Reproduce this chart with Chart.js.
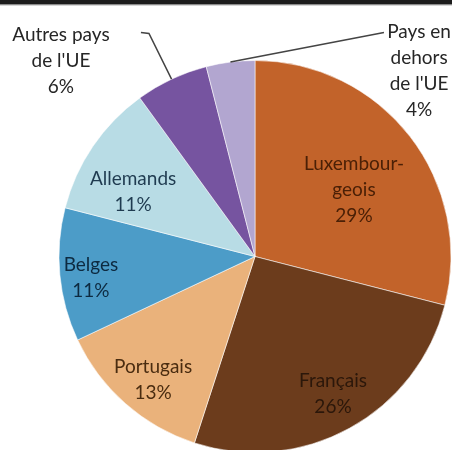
<!DOCTYPE html>
<html>
<head>
<meta charset="utf-8">
<script src="https://cdn.jsdelivr.net/npm/chart.js@4/dist/chart.umd.min.js"></script>
<style>
  html, body { margin: 0; padding: 0; background: #fff; overflow: hidden; }
  #wrap { position: relative; width: 452px; height: 460px; }
</style>
</head>
<body>
<div id="wrap"><canvas id="pie"></canvas></div>
<script>
// data, clockwise from the top
var categories = [ 'Luxembourgeois', 'Français', 'Portugais', 'Belges', 'Allemands', 'Autres pays de l\'UE', 'Pays en dehors de l\'UE' ];
var shares = [ 29, 26, 13, 11, 11, 6, 4 ];
var labelLines = [
    [ 'Luxembour-', 'geois' ],
    [ 'Français' ],
    [ 'Portugais' ],
    [ 'Belges' ],
    [ 'Allemands' ],
    [ 'Autres pays', 'de l\'UE' ],
    [ 'Pays en', 'dehors', 'de l\'UE' ]
];
var sliceColors = [ '#c2632a', '#6c3c1c', '#eab27b', '#4c9cc8', '#b8dce5', '#7654a0', '#b2a6d0' ];
var textColors = [ '#4b2006', '#2b170a', '#4a2c10', '#0d2a40', '#1f3b50', '#262626', '#262626' ];

( function () {
    'use strict';

    // label block centres, in units of the pie radius from its centre
    var labelSpots = [
        [ 0.505, -0.342 ], [ 0.398, 0.699 ], [ -0.520, 0.628 ], [ -0.837, 0.107 ],
        [ -0.622, -0.332 ], [ -0.990, -1.000 ], [ 0.837, -0.945 ]
    ];
    // elbow points of the leader lines for the two small slices
    var leaders = {
        5: [ [ -0.582, -1.143 ], [ -0.541, -1.138 ] ],
        6: [ [ 0.658, -1.143 ] ]
    };

    var pieLabels = {
        id: 'pieLabels',
        beforeDraw: function ( chart ) {
            var ctx = chart.ctx;
            ctx.save();
            ctx.fillStyle = '#1c1c1c';
            ctx.fillRect( 0, 0, chart.width, 4 );
            ctx.fillStyle = '#8a8a8a';
            ctx.fillRect( 0, 4, chart.width, 1 );
            ctx.fillStyle = '#d6d6d6';
            ctx.fillRect( 0, 5, chart.width, 1 );
            ctx.restore();
        },
        afterDatasetsDraw: function ( chart ) {
            var ctx = chart.ctx;
            var arcs = chart.getDatasetMeta( 0 ).data;
            ctx.save();
            arcs.forEach( function ( arc, i ) {
                var cx = arc.x, cy = arc.y, r = arc.outerRadius;

                if ( leaders[ i ] ) {
                    var mid = ( arc.startAngle + arc.endAngle ) / 2;
                    ctx.beginPath();
                    leaders[ i ].forEach( function ( p, k ) {
                        var px = cx + p[ 0 ] * r, py = cy + p[ 1 ] * r;
                        if ( k === 0 ) ctx.moveTo( px, py ); else ctx.lineTo( px, py );
                    } );
                    ctx.lineTo( cx + Math.cos( mid ) * r, cy + Math.sin( mid ) * r );
                    ctx.strokeStyle = '#444';
                    ctx.lineWidth = 1.5;
                    ctx.stroke();
                }

                var lines = labelLines[ i ].concat( [ shares[ i ] + '%' ] );
                var lh = 26;
                var x = cx + labelSpots[ i ][ 0 ] * r;
                var y = cy + labelSpots[ i ][ 1 ] * r - ( lines.length - 1 ) * lh / 2;
                ctx.font = '19px Lato, "Open Sans", sans-serif';
                ctx.textAlign = 'center';
                ctx.textBaseline = 'middle';
                ctx.fillStyle = textColors[ i ];
                lines.forEach( function ( t, k ) {
                    ctx.fillText( t, x, y + k * lh );
                } );
            } );
            ctx.restore();
        }
    };

    new Chart( document.getElementById( 'pie' ), {
        type: 'pie',
        data: {
            labels: categories,
            datasets: [ {
                data: shares,
                backgroundColor: sliceColors,
                borderColor: 'rgba(255,255,255,0.55)',
                borderWidth: 1
            } ]
        },
        options: {
            responsive: true,
            maintainAspectRatio: false,
            animation: false,
            layout: { padding: { left: 58, right: 0, top: 60, bottom: 7 } },
            plugins: {
                legend: { display: false },
                tooltip: { enabled: false }
            }
        },
        plugins: [ pieLabels ]
    } );
} )();
</script>
</body>
</html>
